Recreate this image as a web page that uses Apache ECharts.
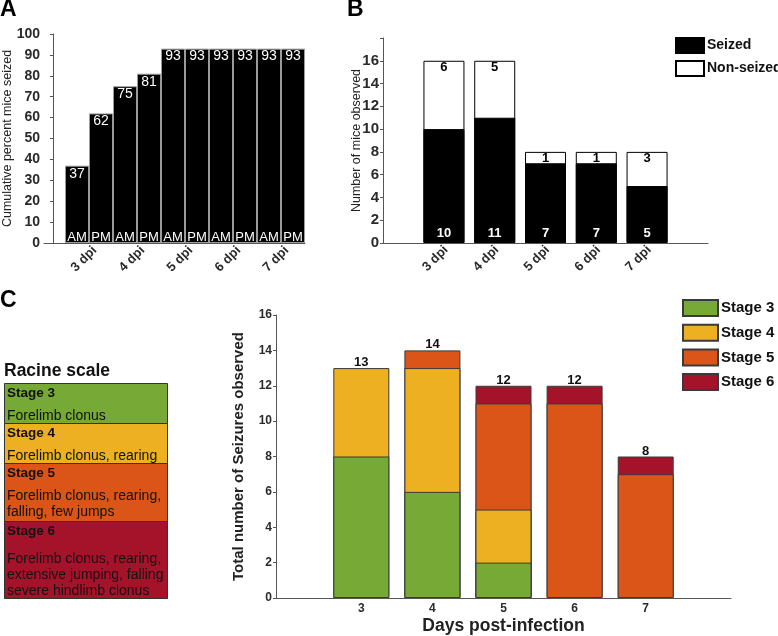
<!DOCTYPE html>
<html>
<head>
<meta charset="utf-8">
<script src="https://cdn.jsdelivr.net/npm/echarts@6/dist/echarts.min.js"></script>
<style>
html,body{margin:0;padding:0;background:#fff;}
#chart{width:778px;height:636px;}
</style>
</head>
<body>
<div id="chart"></div>
<script>
// ---------- Panel A data ----------
const aPeriods = ['AM','PM','AM','PM','AM','PM','AM','PM','AM','PM'];
const aPercent = [37, 62, 75, 81, 93, 93, 93, 93, 93, 93];
const aDayLabels = ['3 dpi','4 dpi','5 dpi','6 dpi','7 dpi'];

// ---------- Panel B data ----------
const bDays = [3, 4, 5, 6, 7];
const bSeized = [10, 11, 7, 7, 5];
const bNonSeized = [6, 5, 1, 1, 3];

// ---------- Panel C data ----------
const cDays = [3, 4, 5, 6, 7];
const cStage3 = [8, 6, 2, 0, 0];
const cStage4 = [5, 7, 3, 0, 0];
const cStage5 = [0, 1, 6, 11, 7];
const cStage6 = [0, 0, 1, 1, 1];
const stageNames = ['Stage 3','Stage 4','Stage 5','Stage 6'];
const stageColors = ['#76a935','#edb022','#db5418','#a5132b'];
const racineDesc = [
  ['Forelimb clonus'],
  ['Forelimb clonus, rearing'],
  ['Forelimb clonus, rearing,','falling, few jumps'],
  ['Forelimb clonus, rearing,','extensive jumping, falling','severe hindlimb clonus']
];

const FONT = '"Liberation Sans", Arial, Helvetica, sans-serif';
const AX = '#555';
const LBL = '#2a2a2a';

const chart = echarts.init(document.getElementById('chart'));

function isInt(v){ return Math.abs(v - Math.round(v)) < 1e-6; }

// stacking done by cumulative sums (bars overlaid, drawn back to front)
const cStages = [cStage3, cStage4, cStage5, cStage6];
const cCum = cStages.map((arr, si) => cDays.map((d, i) => {
  let s = 0; for (let k = 0; k <= si; k++) s += cStages[k][i]; return s;
}));
const cTotals = cCum[3];
const bTotals = bDays.map((d,i)=>bSeized[i]+bNonSeized[i]);

// Racine table graphics
const rowTops = [383, 423, 463, 521];
const rowBottoms = [423, 463, 521, 598];
const tableGraphics = [];
tableGraphics.push({type:'text', left:4, top:362, style:{text:'Racine scale', font:'bold 17.5px '+FONT, fill:'#111'}});
rowTops.forEach((t,i)=>{
  tableGraphics.push({type:'rect', shape:{x:4.5, y:t+0.5, width:163, height:rowBottoms[i]-t}, style:{fill:stageColors[i], stroke:'#333', lineWidth:1}});
  tableGraphics.push({type:'text', x:7, y:t+3, style:{text:stageNames[i], font:'bold 13.5px '+FONT, fill:'#111'}});
  const descTop = (i===3) ? t+30 : t+25;
  tableGraphics.push({type:'text', x:7, y:descTop, style:{text:racineDesc[i].join('\n'), font:'14px '+FONT, fill:'#111', lineHeight:16}});
});
const letters = [
  {type:'text', left:0, top:-2, style:{text:'A', font:'bold 23px '+FONT, fill:'#000'}},
  {type:'text', left:347, top:-2, style:{text:'B', font:'bold 23px '+FONT, fill:'#000'}},
  {type:'text', left:0, top:289, style:{text:'C', font:'bold 23px '+FONT, fill:'#000'}}
];

const option = {
  animation:false,
  textStyle:{fontFamily:FONT},
  graphic: tableGraphics.concat(letters),
  grid:[
    {left:44, right:473, top:34, bottom:393, outerBoundsMode:'none', containLabel:false},
    {left:383, right:70, top:38, bottom:393, outerBoundsMode:'none', containLabel:false},
    {left:276, right:47, top:315, bottom:38, outerBoundsMode:'none', containLabel:false}
  ],
  legend:[
    {data:['Seized','Non-seized'], orient:'vertical', left:675, top:37, padding:0, itemWidth:28, itemHeight:15, itemGap:6,
     icon:'rect', textStyle:{fontFamily:FONT, fontWeight:'bold', fontSize:14, color:'#111', padding:[0,0,0,-2]}},
    {data:stageNames, orient:'vertical', left:682, top:299, padding:0, itemWidth:35, itemHeight:16, itemGap:6.7,
     icon:'rect', textStyle:{fontFamily:FONT, fontWeight:'bold', fontSize:15, color:'#111', padding:[0,0,0,-2]}}
  ],
  xAxis:[
    {gridIndex:0, type:'value', min:-0.375, max:10.5, interval:0.125,
     axisLine:{lineStyle:{color:AX}}, axisTick:{show:false}, splitLine:{show:false},
     axisLabel:{rotate:45, margin:11, fontWeight:'bold', fontSize:13, color:LBL, fontFamily:FONT, padding:[0,-8,0,0],
       formatter:v=>{ const k=(v-1.5)/2; return (isInt(k) && k>=0 && k<aDayLabels.length) ? aDayLabels[Math.round(k)] : ''; }}},
    {gridIndex:1, type:'value', min:1.8, max:8.2, interval:0.2,
     axisLine:{lineStyle:{color:AX}}, axisTick:{show:false}, splitLine:{show:false},
     axisLabel:{rotate:45, margin:7, fontWeight:'bold', fontSize:13, color:LBL, fontFamily:FONT, padding:[0,-3,0,0],
       formatter:v=> (isInt(v) && bDays.indexOf(Math.round(v))>=0) ? Math.round(v)+' dpi' : ''}},
    {gridIndex:2, type:'value', min:1.8, max:8.2, interval:0.2,
     axisLine:{lineStyle:{color:AX}}, axisTick:{show:false}, splitLine:{show:false},
     name:'Days post-infection', nameLocation:'middle', nameGap:19, nameMoveOverlap:false,
     nameTextStyle:{fontWeight:'bold', fontSize:17.5, color:'#222', fontFamily:FONT},
     axisLabel:{margin:5, fontWeight:'bold', fontSize:12, color:LBL, fontFamily:FONT,
       formatter:v=> (isInt(v) && cDays.indexOf(Math.round(v))>=0) ? String(Math.round(v)) : ''}}
  ],
  yAxis:[
    {gridIndex:0, type:'value', min:0, max:100, interval:10,
     axisLine:{show:true, lineStyle:{color:AX}}, axisTick:{show:true, length:3, lineStyle:{color:AX}}, splitLine:{show:false},
     name:'Cumulative percent mice seized', nameLocation:'middle', nameGap:30, nameMoveOverlap:false,
     nameTextStyle:{fontSize:12.5, color:'#222', fontFamily:FONT},
     axisLabel:{margin:4, fontWeight:'bold', fontSize:14, color:LBL, fontFamily:FONT}},
    {gridIndex:1, type:'value', min:0, max:18, interval:2,
     axisLine:{show:true, lineStyle:{color:AX}}, axisTick:{show:true, length:3, lineStyle:{color:AX}}, splitLine:{show:false},
     name:'Number of mice observed', nameLocation:'middle', nameGap:20, nameMoveOverlap:false,
     nameTextStyle:{fontSize:12.5, color:'#222', fontFamily:FONT},
     axisLabel:{margin:4, fontWeight:'bold', fontSize:15, color:LBL, fontFamily:FONT,
       formatter:v=> v>16 ? '' : String(v)}},
    {gridIndex:2, type:'value', min:0, max:16, interval:2,
     axisLine:{show:true, lineStyle:{color:AX}}, axisTick:{show:true, length:3, lineStyle:{color:AX}}, splitLine:{show:false},
     name:'Total number of Seizures observed', nameLocation:'middle', nameGap:30, nameMoveOverlap:false,
     nameTextStyle:{fontWeight:'bold', fontSize:15, color:'#222', fontFamily:FONT},
     axisLabel:{margin:4, fontWeight:'bold', fontSize:12, color:LBL, fontFamily:FONT}}
  ],
  series:[
    // Panel A
    {type:'bar', name:'A', xAxisIndex:0, yAxisIndex:0, barWidth:24, barGap:'-100%',
     data:aPercent.map((v,i)=>[i+1,v]),
     itemStyle:{color:'#000', borderColor:'#9a9a9a', borderWidth:1},
     label:{show:true, position:'insideTop', distance:1, color:'#fff', fontSize:14, fontFamily:FONT,
       formatter:p=>String(p.value[1])}},
    {type:'bar', name:'A-period', xAxisIndex:0, yAxisIndex:0, barWidth:24, barGap:'-100%',
     data:aPercent.map((v,i)=>[i+1,v]),
     itemStyle:{color:'rgba(0,0,0,0)'},
     label:{show:true, position:'insideBottom', distance:-1, color:'#fff', fontSize:13, fontFamily:FONT,
       formatter:p=>aPeriods[p.dataIndex]}},
    // Panel B (total drawn behind, seized in front)
    {type:'bar', name:'Non-seized', xAxisIndex:1, yAxisIndex:1, barWidth:41, barGap:'-100%',
     data:bDays.map((d,i)=>[d,bTotals[i]]),
     itemStyle:{color:'#fff', borderColor:'#000', borderWidth:1},
     label:{show:true, position:'insideTop', distance:0, color:'#000', fontWeight:'bold', fontSize:13, fontFamily:FONT,
       formatter:p=>String(bNonSeized[p.dataIndex])}},
    {type:'bar', name:'Seized', xAxisIndex:1, yAxisIndex:1, barWidth:41, barGap:'-100%',
     data:bDays.map((d,i)=>[d,bSeized[i]]),
     itemStyle:{color:'#000', borderColor:'#000', borderWidth:1},
     label:{show:true, position:'insideBottom', distance:3, color:'#fff', fontWeight:'bold', fontSize:13, fontFamily:FONT,
       formatter:p=>String(bSeized[p.dataIndex])}},
    // Panel C totals label (behind)
    {type:'bar', name:'Total', xAxisIndex:2, yAxisIndex:2, barWidth:56, barGap:'-100%',
     data:cDays.map((d,i)=>[d,cTotals[i]]),
     itemStyle:{color:'rgba(0,0,0,0)'},
     label:{show:true, position:'top', distance:-1, color:'#111', fontWeight:'bold', fontSize:13, fontFamily:FONT,
       formatter:p=>String(p.value[1])}},
    // Panel C stages, back to front
    ...[3,2,1,0].map(si=>({
      type:'bar', name:stageNames[si], xAxisIndex:2, yAxisIndex:2, barWidth:56, barGap:'-100%',
      data:cDays.map((d,i)=>[d, cStages[si][i]===0 ? null : cCum[si][i]]),
      itemStyle:{color:stageColors[si], borderColor:'#3a3a3a', borderWidth:1}
    }))
  ]
};
chart.setOption(option);
</script>
</body>
</html>
